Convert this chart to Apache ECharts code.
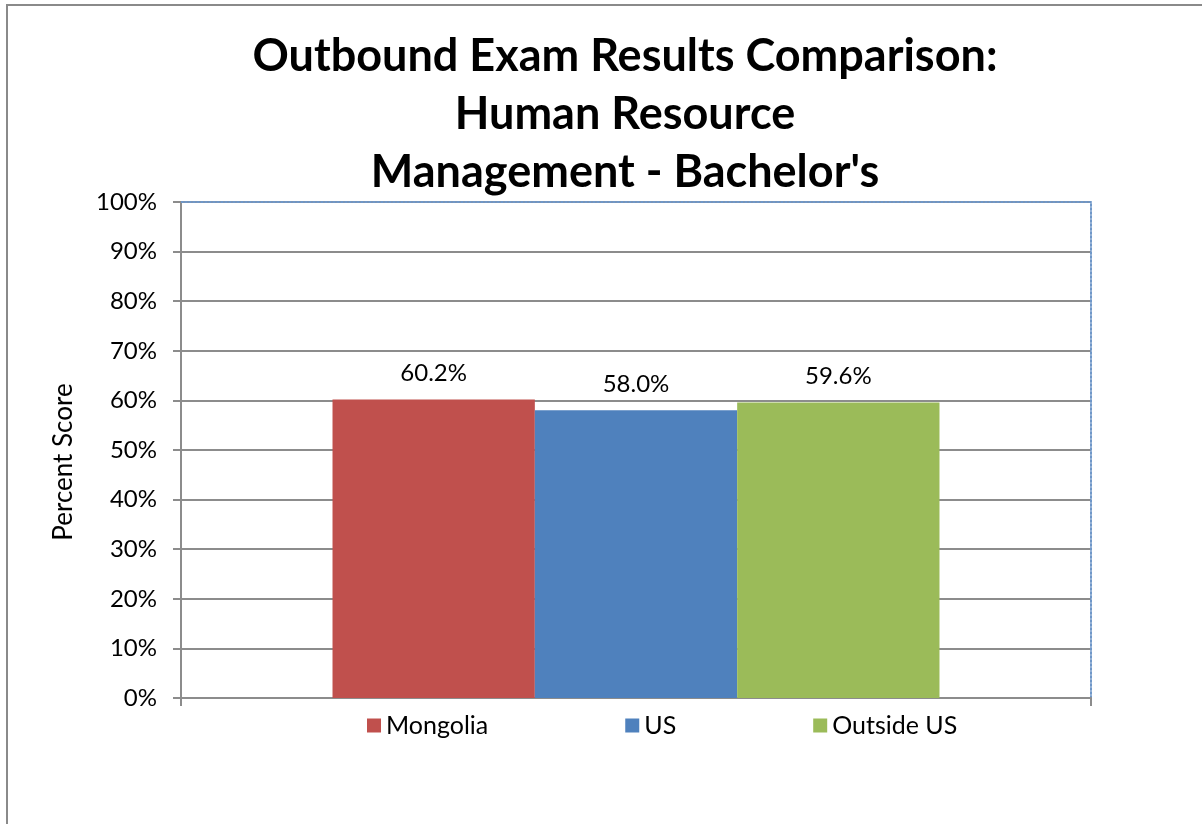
<!DOCTYPE html>
<html>
<head>
<meta charset="utf-8">
<script src="https://cdn.jsdelivr.net/npm/echarts@6/dist/echarts.min.js"></script>
<style>
  html, body { margin: 0; padding: 0; background: #fff; }
  #frame { position: absolute; left: 6px; top: 4px; width: 1400px; height: 1000px; border: 2px solid #8a8a8a; }
  #chart { position: absolute; left: 0; top: 0; width: 1202px; height: 824px; }
</style>
</head>
<body>
<div id="frame"></div>
<div id="chart"></div>
<script>
// chart data
const categories = ['Human Resource Management'];
const seriesNames = ['Mongolia', 'US', 'Outside US'];
const mongolia = [60.2];
const us = [58.0];
const outsideUs = [59.6];
const colors = ['#C0504D', '#4F81BD', '#9BBB59'];

const font = 'Lato, "Open Sans", sans-serif';

const makeBar = (name, data, color) => ({
  name: name,
  type: 'bar',
  data: data,
  barGap: '0%',
  barCategoryGap: '33.3%',
  itemStyle: { color: color },
  label: {
    show: true,
    position: 'top',
    distance: 14,
    formatter: (p) => p.value.toFixed(1) + '%',
    fontFamily: font,
    fontSize: 24,
    color: '#000',
  },
});

const chart = echarts.init(document.getElementById('chart'));
chart.setOption({
  animation: false,
  title: {
    text: "Outbound Exam Results Comparison:\nHuman Resource\nManagement - Bachelor's",
    left: 620,
    top: 22,
    textAlign: 'center',
    textStyle: {
      fontFamily: font,
      fontWeight: 'bold',
      fontSize: 45,
      lineHeight: 58,
      color: '#000',
    },
  },
  legend: {
    data: seriesNames,
    left: 362,
    top: 708,
    icon: 'rect',
    itemWidth: 14,
    itemHeight: 14,
    itemGap: 137,
    textStyle: { fontFamily: font, fontSize: 25, color: '#000' },
  },
  grid: {
    left: 181,
    right: 111,
    top: 202,
    bottom: 126,
  },
  xAxis: [
    {
      type: 'category',
      data: categories,
      axisLine: { lineStyle: { color: '#8c8c8c', width: 2 } },
      axisTick: { show: true, length: 8, lineStyle: { color: '#8c8c8c', width: 2 } },
      axisLabel: { show: false },
    },
    {
      type: 'category',
      position: 'top',
      data: categories,
      axisLine: { onZero: false, lineStyle: { color: '#6f97c8', width: 2, type: [2, 2] } },
      axisTick: { show: false },
      axisLabel: { show: false },
    },
  ],
  yAxis: [
    {
      type: 'value',
      min: 0,
      max: 100,
      interval: 10,
      name: 'Percent Score',
      nameLocation: 'middle',
      nameGap: 104,
      nameTextStyle: { fontFamily: font, fontSize: 26, color: '#000', padding: [0, 24, 0, 0] },
      axisLine: { show: true, lineStyle: { color: '#8c8c8c', width: 2 } },
      axisTick: { show: true, length: 8, lineStyle: { color: '#8c8c8c', width: 2 } },
      axisLabel: {
        formatter: '{value}%',
        margin: 24,
        fontFamily: font,
        fontSize: 24,
        color: '#000',
      },
      splitLine: { lineStyle: { color: '#8c8c8c', width: 2 } },
    },
    {
      type: 'value',
      position: 'right',
      min: 0,
      max: 100,
      interval: 10,
      axisLine: { show: true, onZero: false, lineStyle: { color: '#6f97c8', width: 2, type: [2, 2] } },
      axisTick: { show: false },
      axisLabel: { show: false },
      splitLine: { show: false },
    },
  ],
  series: [
    makeBar(seriesNames[0], mongolia, colors[0]),
    makeBar(seriesNames[1], us, colors[1]),
    makeBar(seriesNames[2], outsideUs, colors[2]),
  ],
});
</script>
</body>
</html>
